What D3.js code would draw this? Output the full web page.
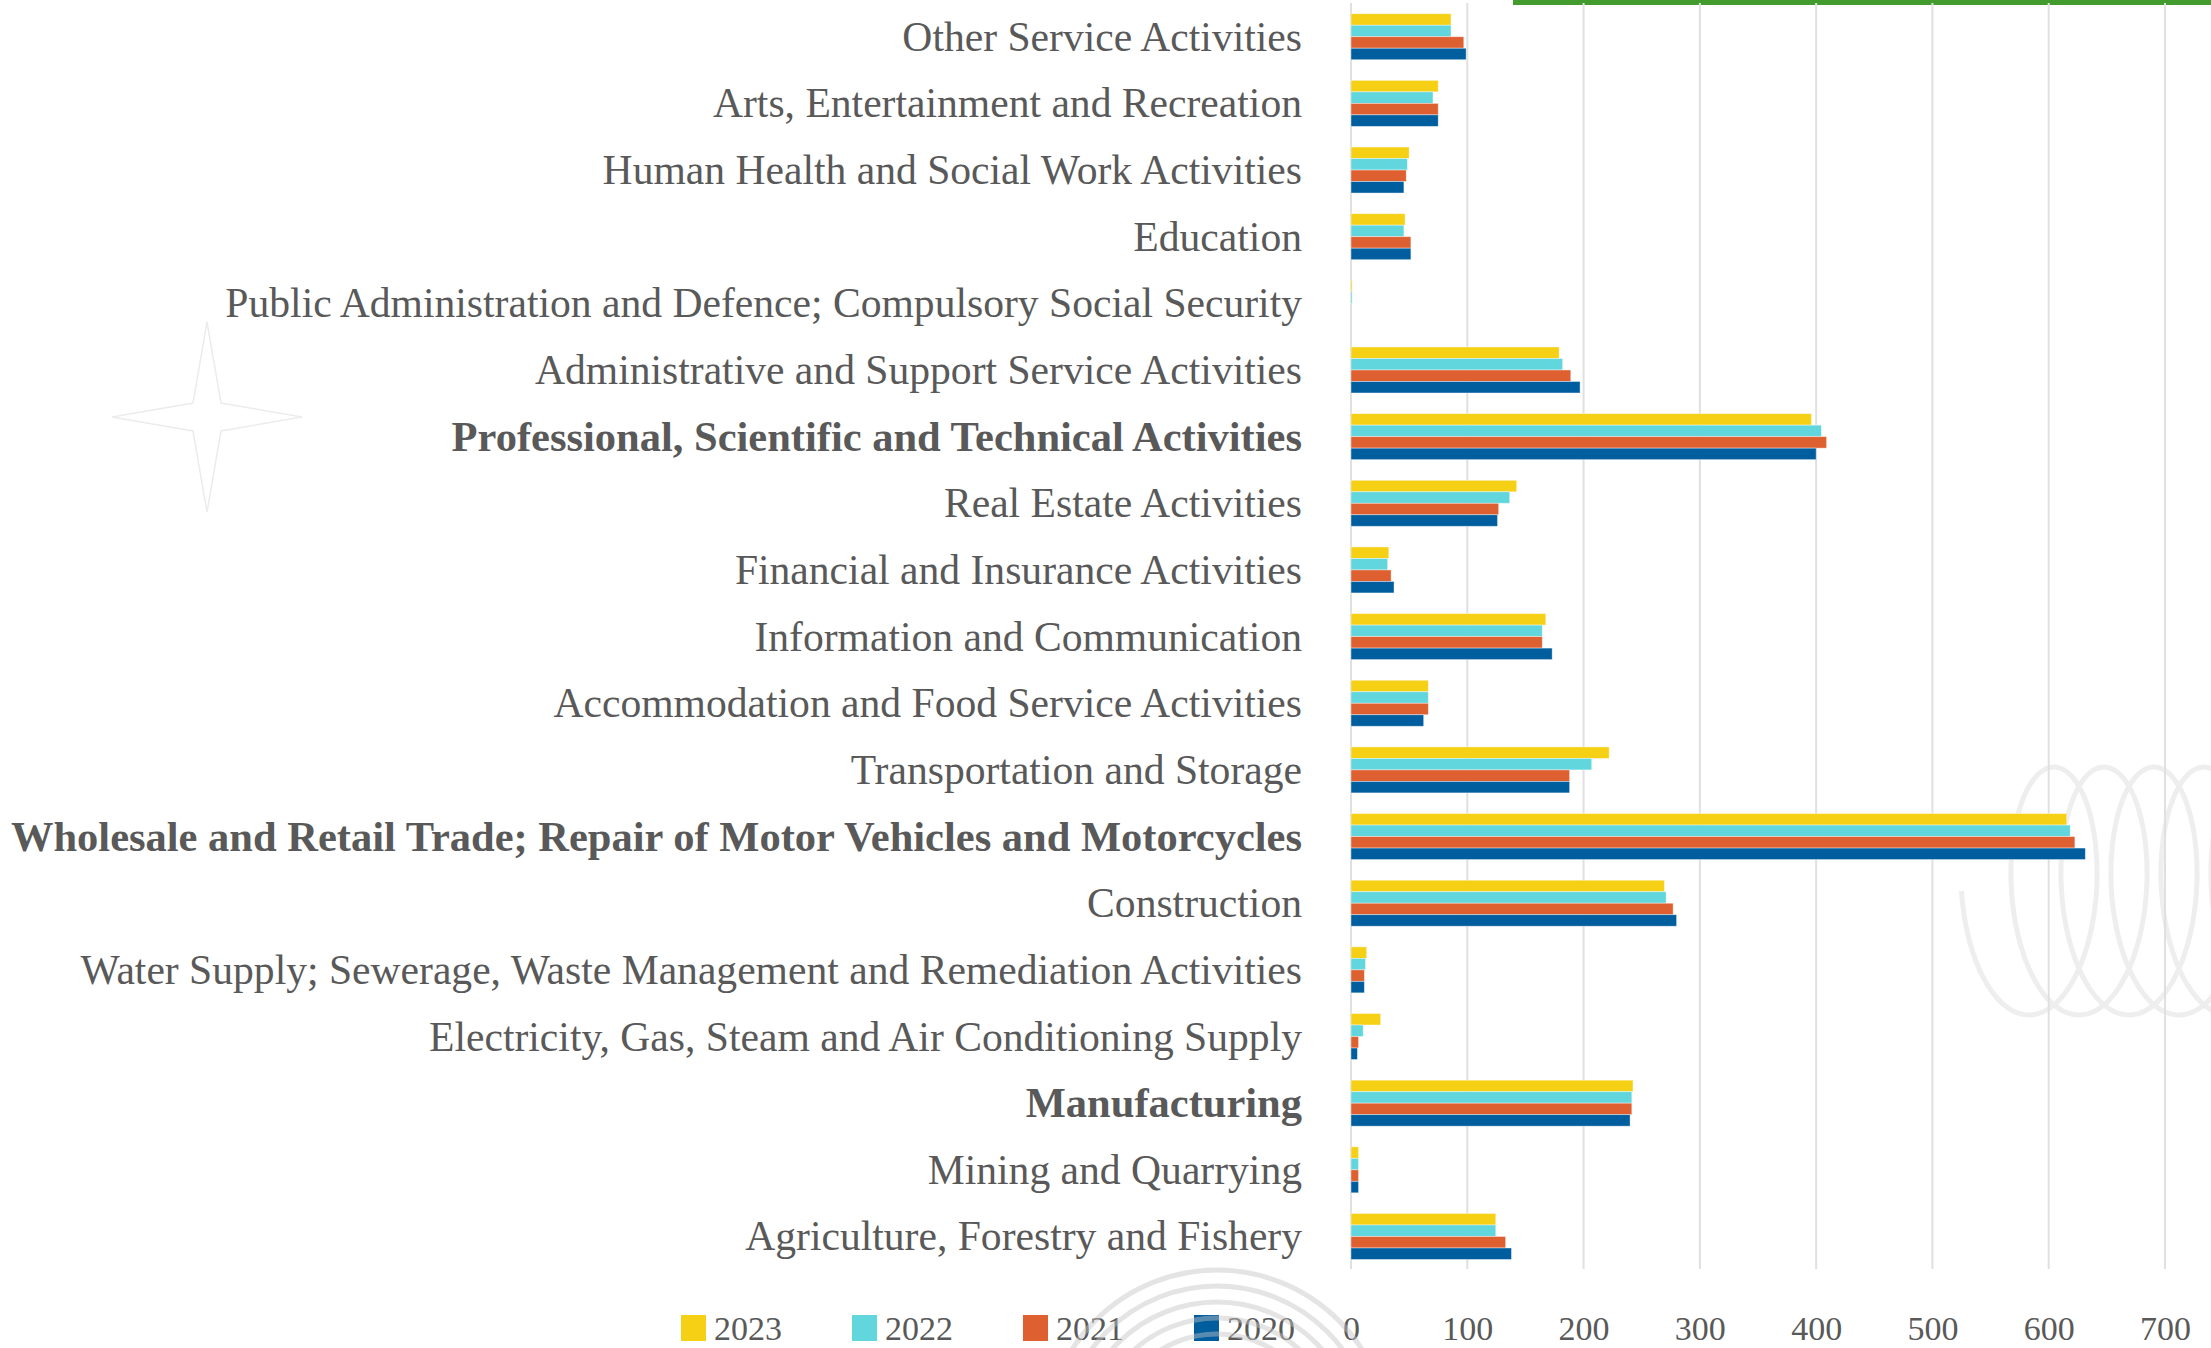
<!DOCTYPE html>
<html>
<head>
<meta charset="utf-8">
<script src="https://cdn.jsdelivr.net/npm/d3@7"></script>
<style>
  body { margin: 0; background: #fff; }
  svg { display: block; }
</style>
</head>
<body>
<div id="chart"></div>
<script>
// categories, top to bottom as in the chart
const categories = [
  "Other Service Activities",
  "Arts, Entertainment and Recreation",
  "Human Health and Social Work Activities",
  "Education",
  "Public Administration and Defence; Compulsory Social Security",
  "Administrative and Support Service Activities",
  "Professional, Scientific and Technical Activities",
  "Real Estate Activities",
  "Financial and Insurance Activities",
  "Information and Communication",
  "Accommodation and Food Service Activities",
  "Transportation and Storage",
  "Wholesale and Retail Trade; Repair of Motor Vehicles and Motorcycles",
  "Construction",
  "Water Supply; Sewerage, Waste Management and Remediation Activities",
  "Electricity, Gas, Steam and Air Conditioning Supply",
  "Manufacturing",
  "Mining and Quarrying",
  "Agriculture, Forestry and Fishery"
];
const boldCategories = [
  "Professional, Scientific and Technical Activities",
  "Wholesale and Retail Trade; Repair of Motor Vehicles and Motorcycles",
  "Manufacturing"
];

const years = ["2023", "2022", "2021", "2020"];
const values2023 = [86, 75, 50, 46.5, 1, 179, 396, 142.5, 32.5, 167.5, 66.5, 222, 615.5, 269.5, 13.5, 25.5, 242.5, 6.5, 124.5];
const values2022 = [86, 70.5, 48.5, 45.5, 1, 182, 404.5, 136.5, 31.5, 164.5, 66.5, 207, 618.5, 271, 12.5, 10.5, 241.5, 6.5, 124.5];
const values2021 = [97, 75, 47.5, 51.5, 0, 189, 409, 127, 34.5, 164.5, 66.5, 188, 622.5, 277, 11.5, 6.5, 241.5, 6.5, 133];
const values2020 = [99, 75, 45.5, 51.5, 0, 197, 400, 126, 37, 173, 62.5, 188, 631.5, 280, 11.5, 5.5, 240, 6.5, 138];
const xTicks = [0, 100, 200, 300, 400, 500, 600, 700];
const colors = ["#f5d014", "#62d6dd", "#de6031", "#005e9e"];

const w = 2211;
const h = 1348;

const seriesByYear = {
  "2023": values2023,
  "2022": values2022,
  "2021": values2021,
  "2020": values2020
};

const svg = d3.select("#chart").
append("svg").
attr("width", w).
attr("height", h);

// background decorations (light outlines)
const star = [[0, -95], [14, -14], [95, 0], [14, 14], [0, 95], [-14, 14], [-95, 0], [-14, -14]];
svg.append("path").
attr("d", d3.line()(star.map(p => [207 + p[0], 417 + p[1]])) + "Z").
attr("fill", "none").
attr("stroke", "#ececec").
attr("stroke-width", 1.5);

// spring coil on the right
let coil = [];
for (let t = Math.PI / 2; t <= Math.PI * 11; t += 0.05) {
  coil.push([2004 + 50 * t / (2 * Math.PI) - 55 * Math.sin(t), 891 - 124 * Math.cos(t)]);
}
svg.append("path").
attr("d", d3.line().curve(d3.curveBasis)(coil)).
attr("fill", "none").
attr("stroke", "#eeeeee").
attr("stroke-width", 5);

// thin green bar on top
svg.append("rect").
attr("x", 1513).
attr("y", 0).
attr("width", w - 1513).
attr("height", 5).
attr("fill", "#439b2e");

// scales
const x = d3.scaleLinear().
domain([0, 700]).
range([1351, 2165]);

const y = d3.scaleBand().
domain(categories).
range([3.4, 1269.8]).
paddingInner(0.31).
paddingOuter(0.155);

const yInner = d3.scaleBand().
domain(years).
range([0, y.bandwidth()]);

// gridlines
svg.append("g").
attr("id", "grid").
selectAll("line").
data(xTicks).
enter().
append("line").
attr("x1", d => x(d)).
attr("x2", d => x(d)).
attr("y1", 3).
attr("y2", 1269).
attr("stroke", "#e0e0e0").
attr("stroke-width", 2);

// bars
const groups = svg.append("g").
selectAll("g").
data(categories).
enter().
append("g").
attr("transform", d => "translate(0," + y(d) + ")");

groups.selectAll("rect").
data((d, i) => years.map(yr => ({ year: yr, value: seriesByYear[yr][i] }))).
enter().
append("rect").
attr("x", x(0)).
attr("y", d => yInner(d.year)).
attr("width", d => x(d.value) - x(0)).
attr("height", yInner.bandwidth()).
attr("fill", (d, i) => colors[i]).
attr("stroke", "#ffffff").
attr("stroke-opacity", 0.5).
attr("stroke-width", 0.8);

// category labels
svg.append("g").
selectAll("text").
data(categories).
enter().
append("text").
attr("x", 1302).
attr("y", d => y(d) + y.bandwidth() / 2 + 14).
attr("text-anchor", "end").
style("font-family", "'Liberation Serif', serif").
style("font-size", d => boldCategories.includes(d) ? "42.5px" : "41.6px").
style("font-weight", d => boldCategories.includes(d) ? "bold" : "normal").
style("fill", "#595959").
text(d => d);

// x axis tick labels
const xAxis = d3.axisBottom(x).tickValues(xTicks).tickSize(0).tickPadding(0);
const axisG = svg.append("g").
attr("id", "x-axis").
attr("transform", "translate(0,1340)").
call(xAxis);
axisG.select(".domain").remove();
axisG.selectAll("text").
attr("dy", 0).
attr("y", 0).
style("font-family", "'Liberation Serif', serif").
style("font-size", "34px").
style("fill", "#595959");

// legend
const legend = svg.append("g").
attr("id", "legend").
selectAll("g").
data(years).
enter().
append("g").
attr("transform", (d, i) => "translate(" + (681 + i * 171) + ",1315)");

legend.append("rect").
attr("width", 25).
attr("height", 26).
attr("fill", (d, i) => colors[i]);

legend.append("text").
attr("x", 33).
attr("y", 25).
style("font-family", "'Liberation Serif', serif").
style("font-size", "34px").
style("fill", "#595959").
text(d => d);

// concentric arcs at the bottom, drawn over the legend
svg.append("g").
selectAll("circle").
data([172, 156, 140, 124, 108]).
enter().
append("circle").
attr("cx", 1217).
attr("cy", 1442).
attr("r", d => d).
attr("fill", "none").
attr("stroke", "rgb(196,196,196)").
attr("stroke-opacity", 0.45).
attr("stroke-width", 5);
</script>
</body>
</html>
